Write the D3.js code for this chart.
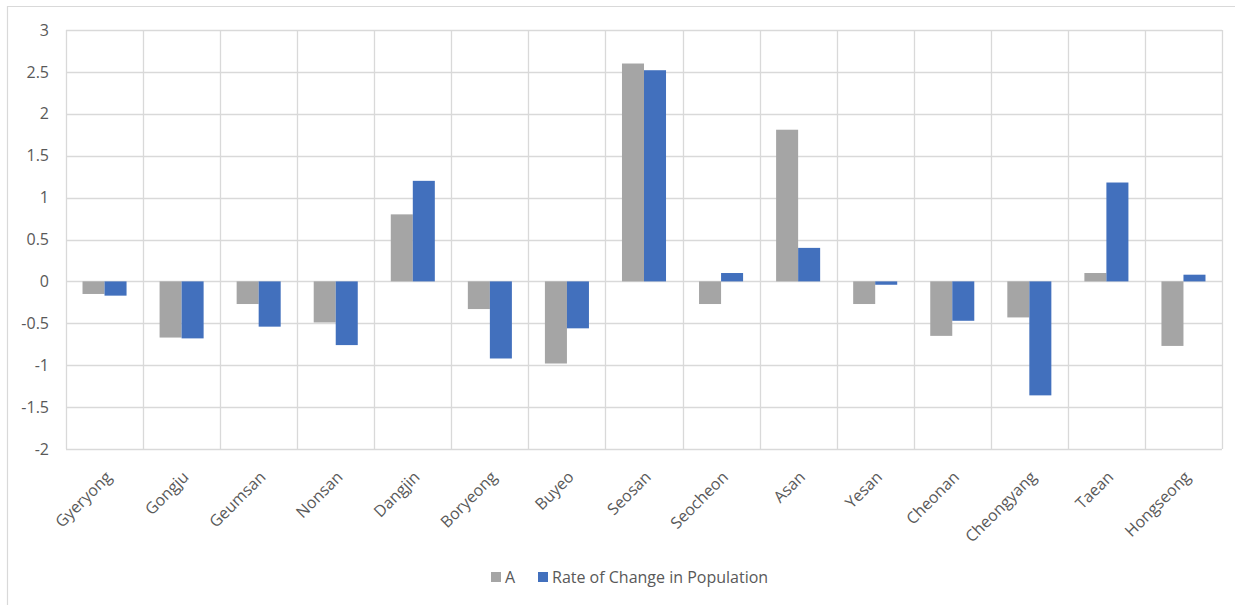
<!DOCTYPE html>
<html>
<head>
<meta charset="utf-8">
<script src="https://cdn.jsdelivr.net/npm/d3@7"></script>
<style>
  html, body { margin: 0; padding: 0; background: #ffffff; }
  svg { display: block; font-family: "Open Sans", "Noto Sans", sans-serif; }
</style>
</head>
<body>
<svg id="chart" width="1235" height="605"></svg>
<script>
// Regions of Chungcheongnam-do
const regions = ["Gyeryong", "Gongju", "Geumsan", "Nonsan", "Dangjin", "Boryeong", "Buyeo",
  "Seosan", "Seocheon", "Asan", "Yesan", "Cheonan", "Cheongyang", "Taean", "Hongseong"];
const seriesNames = ["A", "Rate of Change in Population"];
const valuesA = [-0.15, -0.67, -0.27, -0.49, 0.80, -0.33, -0.98,
  2.60, -0.27, 1.81, -0.27, -0.65, -0.43, 0.10, -0.77];
const valuesRate = [-0.17, -0.68, -0.54, -0.76, 1.20, -0.92, -0.56,
  2.52, 0.10, 0.40, -0.04, -0.47, -1.36, 1.18, 0.08];
const yTicks = [3, 2.5, 2, 1.5, 1, 0.5, 0, -0.5, -1, -1.5, -2];
const colors = ["#a5a5a5", "#4270bd"];

const svg = d3.select("#chart");
const plot = { left: 66, right: 1222, top: 30, bottom: 449 };
const textColor = "#595959";
const fontSize = 16;

// chart frame (only top and left edges fall inside the view)
svg.append("path")
  .attr("d", "M7.5,605 V6.5 H1235")
  .attr("fill", "none")
  .attr("stroke", "#d9d9d9")
  .attr("stroke-width", 1.2);

const x = d3.scaleBand().domain(regions).range([plot.left, plot.right]).paddingInner(0).paddingOuter(0);
// two bars per category with a 150% gap: 0.75 of a bar on each side
const x1 = d3.scaleBand().domain(seriesNames).range([0, x.bandwidth()])
  .paddingInner(0).paddingOuter(0.75);
const y = d3.scaleLinear().domain([-2, 3]).range([plot.bottom, plot.top]);

const grid = svg.append("g");
// horizontal gridlines
grid.selectAll("line.h").data(yTicks).join("line")
  .attr("x1", plot.left).attr("x2", plot.right)
  .attr("y1", d => Math.round(y(d)) + 0.5).attr("y2", d => Math.round(y(d)) + 0.5)
  .attr("stroke", "#d9d9d9").attr("stroke-width", 1.3);
// vertical gridlines at category boundaries
const bounds = regions.map(r => x(r)).concat([plot.right]);
grid.selectAll("line.v").data(bounds).join("line")
  .attr("x1", d => Math.round(d) + 0.5).attr("x2", d => Math.round(d) + 0.5)
  .attr("y1", plot.top).attr("y2", plot.bottom)
  .attr("stroke", "#d9d9d9").attr("stroke-width", 1.3);

// y axis labels (plain hyphen for negatives)
const fmt = d3.format("~g");
const yAxis = d3.axisLeft(y).tickValues(yTicks).tickSize(0).tickPadding(0)
  .tickFormat(d => fmt(d).replace("\u2212", "-"));
const yg = svg.append("g").attr("transform", `translate(${plot.left - 17},0)`).call(yAxis);
yg.select(".domain").remove();
yg.selectAll("text").attr("fill", textColor).attr("font-size", fontSize)
  .attr("font-family", "'Open Sans', sans-serif");

// bars
const data = regions.map((r, i) => ({ region: r, vals: [valuesA[i], valuesRate[i]] }));
const groups = svg.append("g").selectAll("g").data(data).join("g")
  .attr("transform", d => `translate(${x(d.region)},0)`);
groups.selectAll("rect").data(d => d.vals.map((v, j) => ({ key: seriesNames[j], v, j }))).join("rect")
  .attr("x", d => x1(d.key))
  .attr("width", x1.bandwidth())
  .attr("y", d => y(Math.max(0, d.v)))
  .attr("height", d => Math.abs(y(d.v) - y(0)))
  .attr("fill", d => colors[d.j]);

// x axis labels, rotated
const xAxis = d3.axisBottom(x).tickSize(0).tickPadding(0);
const xg = svg.append("g").attr("transform", `translate(0,${plot.bottom})`).call(xAxis);
xg.select(".domain").remove();
xg.selectAll(".tick text")
  .attr("fill", textColor).attr("font-size", fontSize)
  .attr("font-family", "'Open Sans', sans-serif")
  .attr("text-anchor", "end")
  .attr("dy", 0)
  .attr("transform", "translate(8,29) rotate(-45)");

// legend
const legend = svg.append("g").attr("transform", "translate(491,572)");
const items = [{ name: seriesNames[0], x: 0 }, { name: seriesNames[1], x: 47 }];
items.forEach((it, i) => {
  const g = legend.append("g").attr("transform", `translate(${it.x},0)`);
  g.append("rect").attr("width", 10).attr("height", 10).attr("fill", colors[i]);
  g.append("text").attr("x", 14).attr("y", 10.5).attr("fill", textColor)
    .attr("font-size", fontSize).attr("font-family", "'Open Sans', sans-serif")
    .text(it.name);
});
</script>
</body>
</html>
